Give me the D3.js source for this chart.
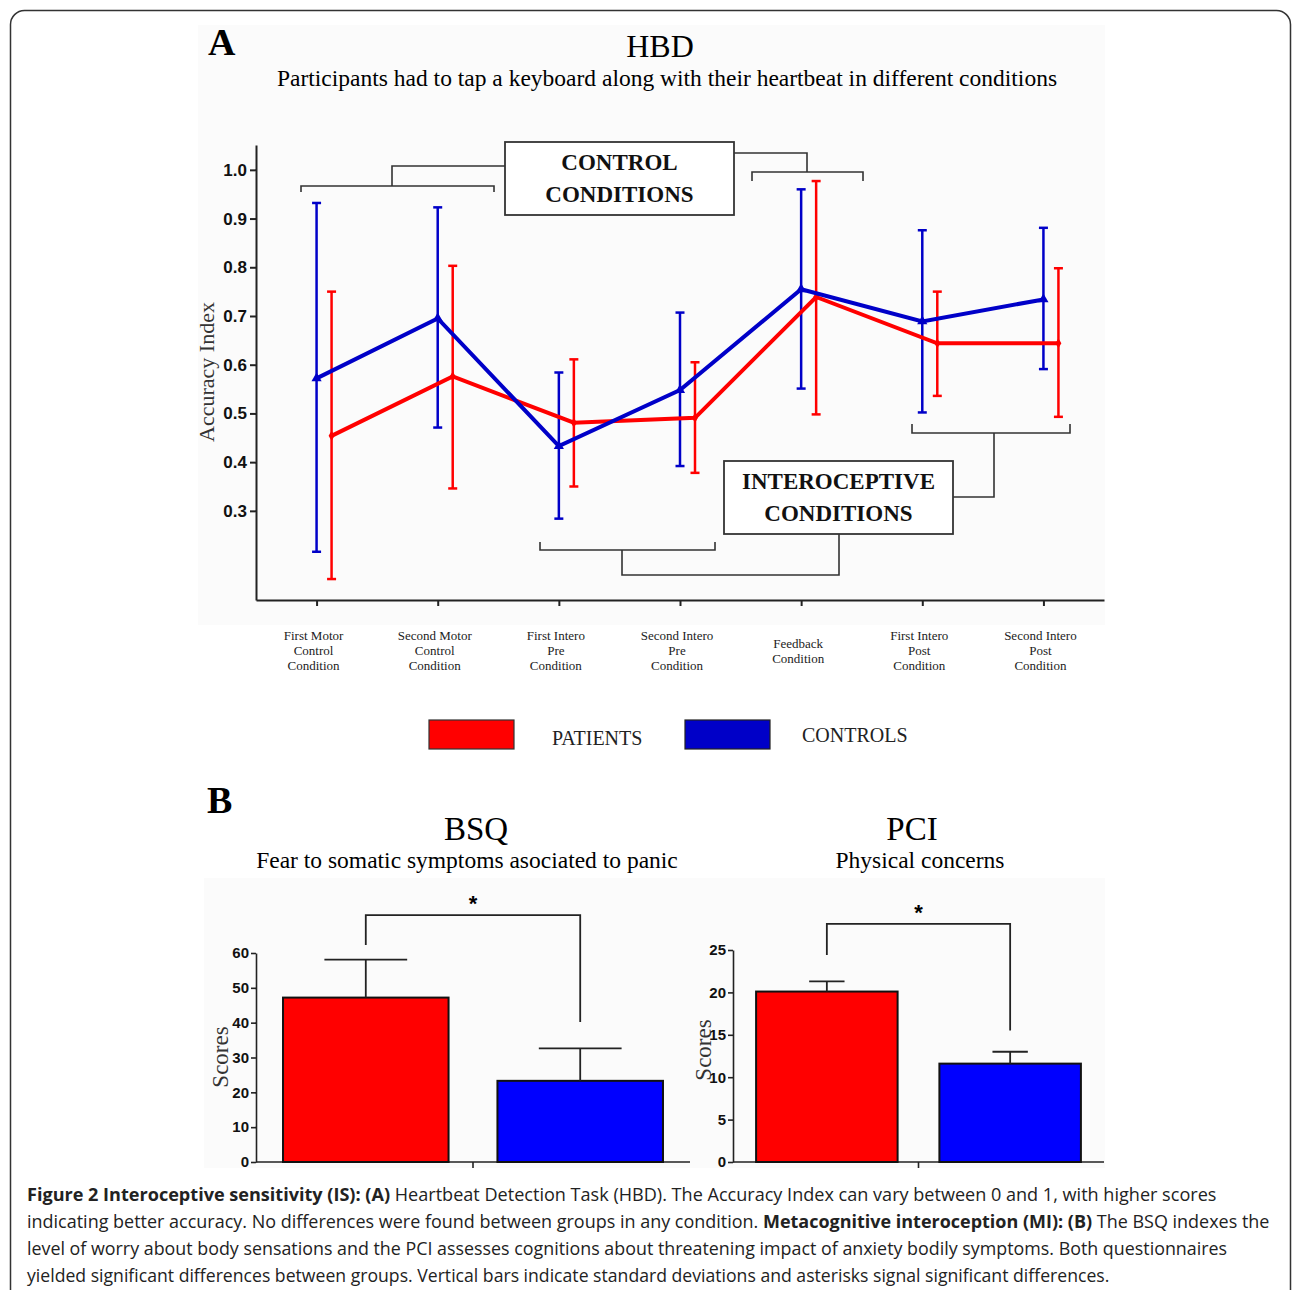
<!DOCTYPE html>
<html>
<head>
<meta charset="utf-8">
<script src="https://cdn.jsdelivr.net/npm/d3@7"></script>
<style>
  body { margin: 0; background: #fff; }
  svg { display: block; }
  .serif { font-family: "Liberation Serif", "Times New Roman", serif; }
  .sans { font-family: "Liberation Sans", Arial, sans-serif; }
</style>
</head>
<body>
<svg width="1292" height="1290"></svg>
<script>
// HBD accuracy per condition
var conditionLabels = [
    ["First Motor", "Control", "Condition"],
    ["Second Motor", "Control", "Condition"],
    ["First Intero", "Pre", "Condition"],
    ["Second Intero", "Pre", "Condition"],
    ["Feedback", "Condition"],
    ["First Intero", "Post", "Condition"],
    ["Second Intero", "Post", "Condition"]
];
var patientsMean = [0.454, 0.576, 0.481, 0.491, 0.739, 0.644, 0.644];
var patientsHigh = [0.750, 0.803, 0.611, 0.605, 0.977, 0.750, 0.798];
var patientsLow = [0.160, 0.346, 0.350, 0.378, 0.498, 0.536, 0.493];
var controlsMean = [0.572, 0.695, 0.433, 0.548, 0.755, 0.689, 0.734];
var controlsHigh = [0.932, 0.923, 0.584, 0.707, 0.960, 0.876, 0.881];
var controlsLow = [0.216, 0.471, 0.284, 0.392, 0.551, 0.502, 0.591];
var accuracyTicks = [0.3, 0.4, 0.5, 0.6, 0.7, 0.8, 0.9, 1.0];

// questionnaires
var groups = ["PATIENTS", "CONTROLS"];
var bsqMean = [47.2, 23.3];
var bsqSD = [10.9, 9.3];
var bsqTicks = [0, 10, 20, 30, 40, 50, 60];
var pciMean = [20.1, 11.6];
var pciSD = [1.2, 1.4];
var pciTicks = [0, 5, 10, 15, 20, 25];

var captionLines = [
    [["Figure 2 Interoceptive sensitivity (IS): (A)", true], [" Heartbeat Detection Task (HBD). The Accuracy Index can vary between 0 and 1, with higher scores", false]],
    [["indicating better accuracy. No differences were found between groups in any condition. ", false], ["Metacognitive interoception (MI): (B)", true], [" The BSQ indexes the", false]],
    [["level of worry about body sensations and the PCI assesses cognitions about threatening impact of anxiety bodily symptoms. Both questionnaires", false]],
    [["yielded significant differences between groups. Vertical bars indicate standard deviations and asterisks signal significant differences.", false]]
];
var captionWidths = [1190, 1243, 1201, 1083];

var red = "#ff0000";
var darkBlue = "#0000c8";
var blue = "#0000ff";
var ink = "#222";

var svg = d3.select("svg");

// outer frame
svg.append("rect")
    .attr("x", 10.5).attr("y", 10.5)
    .attr("width", 1280).attr("height", 1320)
    .attr("rx", 14)
    .attr("fill", "none")
    .attr("stroke", "#333")
    .attr("stroke-width", 1.5);

// faint panel backgrounds
svg.append("rect").attr("x", 198).attr("y", 25).attr("width", 907).attr("height", 600).attr("fill", "#fbfbfb");
svg.append("rect").attr("x", 204).attr("y", 878).attr("width", 901).attr("height", 290).attr("fill", "#fbfbfb");

// ---------- Panel A ----------
svg.append("text").attr("class", "serif")
    .attr("x", 208).attr("y", 55)
    .attr("font-size", 38).attr("font-weight", "bold")
    .text("A");
svg.append("text").attr("class", "serif")
    .attr("x", 660).attr("y", 57)
    .attr("text-anchor", "middle").attr("font-size", 32)
    .text("HBD");
svg.append("text").attr("class", "serif")
    .attr("x", 667).attr("y", 86)
    .attr("text-anchor", "middle").attr("font-size", 23.5)
    .text("Participants had to tap a keyboard along with their heartbeat in different conditions");

var x = d3.scalePoint()
    .domain(d3.range(conditionLabels.length))
    .range([256, 1104])
    .padding(0.5);
var y = d3.scaleLinear().domain([0.117, 1.051]).range([600, 145]);
var offset = 15;

var gA = svg.append("g");

gA.append("g")
    .attr("transform", "translate(256,0)")
    .call(d3.axisLeft(y).tickValues(accuracyTicks).tickFormat(d3.format(".1f")).tickSize(6).tickSizeOuter(0).tickPadding(3))
    .call(function (g) {
        g.select(".domain").attr("stroke", ink).attr("stroke-width", 2);
        g.selectAll(".tick line").attr("stroke", ink).attr("stroke-width", 2);
        g.selectAll("text").attr("class", "sans").attr("font-size", 17).attr("font-weight", "bold").attr("fill", "#111");
    });

gA.append("g")
    .attr("transform", "translate(0,600)")
    .call(d3.axisBottom(x).tickFormat("").tickSize(6).tickSizeOuter(0))
    .call(function (g) {
        g.select(".domain").attr("stroke", ink).attr("stroke-width", 2);
        g.selectAll(".tick line").attr("stroke", ink).attr("stroke-width", 2);
    });

gA.append("text").attr("class", "serif")
    .attr("transform", "translate(214,372) rotate(-90)")
    .attr("text-anchor", "middle").attr("font-size", 22).attr("fill", "#333")
    .text("Accuracy Index");

// condition labels
conditionLabels.forEach(function (lines, i) {
    var t = gA.append("text").attr("class", "serif")
        .attr("text-anchor", "middle").attr("font-size", 13).attr("fill", "#222");
    var y0 = lines.length === 3 ? 640 : 648;
    lines.forEach(function (s, j) {
        t.append("tspan").attr("x", x(i) - 3).attr("y", y0 + j * 15).text(s);
    });
});

// annotation brackets and boxes
function bracket(pts) {
    gA.append("path")
        .attr("d", d3.line()(pts))
        .attr("fill", "none").attr("stroke", "#333").attr("stroke-width", 1.6);
}
bracket([[301, 192], [301, 186], [494, 186], [494, 192]]);
bracket([[392, 186], [392, 166], [505, 166]]);
bracket([[752, 181], [752, 172], [863, 172], [863, 181]]);
bracket([[734, 153], [807, 153], [807, 172]]);
bracket([[912, 424], [912, 433], [1070, 433], [1070, 424]]);
bracket([[994, 433], [994, 497], [953, 497]]);
bracket([[540, 542], [540, 550], [715, 550], [715, 542]]);
bracket([[622, 550], [622, 575], [839, 575], [839, 534]]);

function labelBox(x0, y0, w, h, lines, baselines) {
    gA.append("rect").attr("x", x0).attr("y", y0).attr("width", w).attr("height", h)
        .attr("fill", "#fff").attr("stroke", "#333").attr("stroke-width", 1.8);
    lines.forEach(function (s, j) {
        gA.append("text").attr("class", "serif")
            .attr("x", x0 + w / 2).attr("y", baselines[j])
            .attr("text-anchor", "middle").attr("font-size", 23).attr("font-weight", "bold")
            .attr("fill", "#111")
            .text(s);
    });
}
labelBox(505, 142, 229, 73, ["CONTROL", "CONDITIONS"], [170, 202]);
labelBox(724, 461, 229, 73, ["INTEROCEPTIVE", "CONDITIONS"], [489, 521]);

// series
var series = [
    { mean: patientsMean, high: patientsHigh, low: patientsLow, color: red, dx: offset, symbol: d3.symbolDiamond, size: 30 },
    { mean: controlsMean, high: controlsHigh, low: controlsLow, color: darkBlue, dx: 0, symbol: d3.symbolTriangle, size: 45 }
];

series.forEach(function (s) {
    var g = gA.append("g");
    var idx = d3.range(s.mean.length);
    g.selectAll("line.err").data(idx).enter().append("line")
        .attr("x1", function (i) { return x(i) + s.dx; })
        .attr("x2", function (i) { return x(i) + s.dx; })
        .attr("y1", function (i) { return y(s.high[i]); })
        .attr("y2", function (i) { return y(s.low[i]); })
        .attr("stroke", s.color).attr("stroke-width", 2.5);
    [s.high, s.low].forEach(function (arr) {
        g.selectAll(null).data(idx).enter().append("line")
            .attr("x1", function (i) { return x(i) + s.dx - 4.5; })
            .attr("x2", function (i) { return x(i) + s.dx + 4.5; })
            .attr("y1", function (i) { return y(arr[i]); })
            .attr("y2", function (i) { return y(arr[i]); })
            .attr("stroke", s.color).attr("stroke-width", 2.5);
    });
});

series.forEach(function (s) {
    var line = d3.line()
        .x(function (d, i) { return x(i) + s.dx; })
        .y(function (d) { return y(d); });
    gA.append("path")
        .attr("d", line(s.mean))
        .attr("fill", "none").attr("stroke", s.color)
        .attr("stroke-width", 4).attr("stroke-linejoin", "miter");
    gA.selectAll(null).data(s.mean).enter().append("path")
        .attr("transform", function (d, i) { return "translate(" + (x(i) + s.dx) + "," + y(d) + ")"; })
        .attr("d", d3.symbol().type(s.symbol).size(s.size))
        .attr("fill", s.color);
});

// legend
var legend = svg.append("g");
[[429, red, "#333", "PATIENTS", 552, 745], [685, darkBlue, "#222", "CONTROLS", 802, 742]].forEach(function (l) {
    legend.append("rect").attr("x", l[0]).attr("y", 720).attr("width", 85).attr("height", 29)
        .attr("fill", l[1]).attr("stroke", l[2]).attr("stroke-width", 1.2);
    legend.append("text").attr("class", "serif")
        .attr("x", l[4]).attr("y", l[5]).attr("font-size", 20).attr("fill", "#222")
        .text(l[3]);
});

// ---------- Panel B ----------
svg.append("text").attr("class", "serif")
    .attr("x", 207).attr("y", 813)
    .attr("font-size", 38).attr("font-weight", "bold")
    .text("B");

function drawBars(cfg) {
    var g = svg.append("g");
    g.append("text").attr("class", "serif")
        .attr("x", cfg.titleX).attr("y", 840)
        .attr("text-anchor", "middle").attr("font-size", 33)
        .text(cfg.title);
    g.append("text").attr("class", "serif")
        .attr("x", cfg.subX).attr("y", 868)
        .attr("text-anchor", "middle").attr("font-size", 23.5)
        .text(cfg.subtitle);

    var xb = d3.scaleBand().domain(groups).range(cfg.xRange)
        .paddingInner(0.228).paddingOuter(0.126);
    var yb = d3.scaleLinear().domain(cfg.domain).range([1162, cfg.top]);

    g.append("g")
        .attr("transform", "translate(" + cfg.xRange[0] + ",0)")
        .call(d3.axisLeft(yb).tickValues(cfg.ticks).tickSize(5).tickSizeOuter(0).tickPadding(2))
        .call(function (a) {
            a.select(".domain").attr("stroke", ink).attr("stroke-width", 1.6);
            a.selectAll(".tick line").attr("stroke", ink).attr("stroke-width", 1.6);
            a.selectAll("text").attr("class", "sans").attr("font-size", 15).attr("font-weight", "bold").attr("fill", "#111");
        });

    var mid = (xb(groups[0]) + xb.bandwidth() + xb(groups[1])) / 2;
    g.append("path")
        .attr("d", d3.line()([[cfg.xRange[0], 1162], [cfg.xRange[1], 1162]]))
        .attr("stroke", ink).attr("stroke-width", 1.6);
    g.append("path")
        .attr("d", d3.line()([[mid, 1162], [mid, 1168]]))
        .attr("stroke", ink).attr("stroke-width", 1.6);

    var colors = [red, blue];
    g.selectAll("rect.bar").data(cfg.mean).enter().append("rect")
        .attr("x", function (d, i) { return xb(groups[i]); })
        .attr("y", function (d) { return yb(d); })
        .attr("width", xb.bandwidth())
        .attr("height", function (d) { return 1162 - yb(d); })
        .attr("fill", function (d, i) { return colors[i]; })
        .attr("stroke", "#111").attr("stroke-width", 2);

    cfg.mean.forEach(function (m, i) {
        var cx = xb(groups[i]) + xb.bandwidth() / 2;
        var half = xb.bandwidth() * cfg.capFrac / 2;
        g.append("path")
            .attr("d", d3.line()([[cx, yb(m)], [cx, yb(m + cfg.sd[i])]]))
            .attr("stroke", "#222").attr("stroke-width", 1.8);
        g.append("path")
            .attr("d", d3.line()([[cx - half, yb(m + cfg.sd[i])], [cx + half, yb(m + cfg.sd[i])]]))
            .attr("stroke", "#222").attr("stroke-width", 1.8);
    });

    // significance bracket
    var c0 = xb(groups[0]) + xb.bandwidth() / 2;
    var c1 = xb(groups[1]) + xb.bandwidth() / 2;
    g.append("path")
        .attr("d", d3.line()([[c0, yb(cfg.sig[1])], [c0, yb(cfg.sig[0])], [c1, yb(cfg.sig[0])], [c1, yb(cfg.sig[2])]]))
        .attr("fill", "none").attr("stroke", "#222").attr("stroke-width", 1.8);
    g.append("text").attr("class", "sans")
        .attr("x", (c0 + c1) / 2).attr("y", yb(cfg.sig[0]) - 4)
        .attr("text-anchor", "middle").attr("font-size", 22).attr("font-weight", "bold")
        .text("*");

    g.append("text").attr("class", "serif")
        .attr("transform", "translate(" + cfg.labelX + "," + cfg.labelY + ") rotate(-90)")
        .attr("text-anchor", "middle").attr("font-size", 23).attr("fill", "#333")
        .text("Scores");
}

drawBars({
    title: "BSQ", titleX: 476, subtitle: "Fear to somatic symptoms asociated to panic", subX: 467,
    xRange: [256, 690], domain: [0, 60], top: 953, ticks: bsqTicks,
    mean: bsqMean, sd: bsqSD, capFrac: 0.5, sig: [70.9, 62.3, 40.2],
    labelX: 228, labelY: 1057
});
drawBars({
    title: "PCI", titleX: 912, subtitle: "Physical concerns", subX: 920,
    xRange: [733, 1104], domain: [0, 25], top: 950, ticks: pciTicks,
    mean: pciMean, sd: pciSD, capFrac: 0.25, sig: [28.07, 24.4, 15.5],
    labelX: 711, labelY: 1050
});

// ---------- caption ----------
captionLines.forEach(function (parts, i) {
    var t = svg.append("text")
        .attr("x", 0).attr("y", 0)
        .attr("font-family", "'Open Sans', 'Noto Sans', sans-serif")
        .attr("font-size", 18.5).attr("fill", "#222");
    parts.forEach(function (p) {
        t.append("tspan").attr("font-weight", p[1] ? "bold" : "normal").text(p[0]);
    });
    var w = t.node().getComputedTextLength();
    var k = captionWidths[i] / w;
    t.attr("transform", "translate(27," + (1201 + i * 27) + ") scale(" + k + ",1)");
});
</script>
</body>
</html>
